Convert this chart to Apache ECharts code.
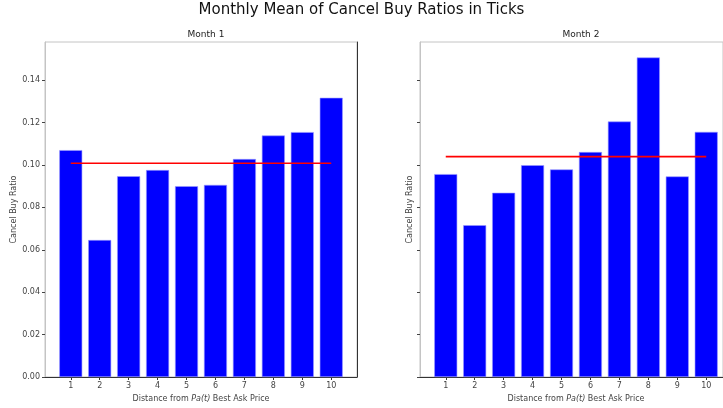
<!DOCTYPE html>
<html>
<head>
<meta charset="utf-8">
<script src="https://cdn.jsdelivr.net/npm/echarts@6/dist/echarts.min.js"></script>
<style>
  html, body { margin: 0; padding: 0; background: #fff; }
  #chart { width: 723px; height: 408px; }
</style>
</head>
<body>
<div id="chart"></div>
<script>
// distances from best ask price
const distances = [1, 2, 3, 4, 5, 6, 7, 8, 9, 10]
// monthly mean cancel buy ratios
const month1 = [0.1070, 0.0646, 0.0947, 0.0976, 0.0900, 0.0906, 0.1028, 0.1139, 0.1155, 0.1317]
const month2 = [0.0957, 0.0716, 0.0869, 0.0999, 0.0979, 0.1061, 0.1205, 0.1507, 0.0946, 0.1156]
const yTicks = [0, 0.02, 0.04, 0.06, 0.08, 0.10, 0.12, 0.14]
const panelTitles = ['Month 1', 'Month 2']

const mean = arr => arr.reduce((s, v) => s + v, 0) / arr.length

const font = 'DejaVu Sans'
// right panel is cut off by the picture edge
const grids = [
  { left: 45, top: 42, width: 312, height: 335, xMax: 10.89, namePad: 0 },
  { left: 420, top: 42, width: 303, height: 335, xMax: 10.58, namePad: 9 }
]

const xAxes = grids.map((g, i) => ({
  type: 'value',
  gridIndex: i,
  min: 0.11,
  max: g.xMax,
  splitLine: { show: false },
  axisLine: { show: true, lineStyle: { color: '#333', width: 1 } },
  axisTick: { show: true, customValues: distances, length: 3, lineStyle: { color: '#333' } },
  axisLabel: { customValues: distances, color: '#444', fontSize: 8, fontFamily: font, margin: 5 },
  name: '{n|Distance from }{i|Pa(t)}{n| Best Ask Price}',
  nameLocation: 'middle',
  nameGap: 16,
  nameTextStyle: {
    padding: [0, 0, 0, g.namePad],
    rich: {
      n: { fontSize: 8, color: '#444', fontFamily: font },
      i: { fontSize: 8, color: '#444', fontFamily: font, fontStyle: 'italic' }
    }
  }
}))

const yAxes = []
grids.forEach((g, i) => {
  yAxes.push({
    type: 'value',
    gridIndex: i,
    min: 0,
    max: 0.158,
    splitLine: { show: false },
    axisLine: { show: true, lineStyle: { color: '#c4c4c4', width: 1 } },
    axisTick: { show: true, customValues: yTicks, length: 3, lineStyle: { color: '#444' } },
    axisLabel: {
      show: i === 0,
      customValues: yTicks,
      formatter: v => v.toFixed(2),
      color: '#444',
      fontSize: 8,
      fontFamily: font,
      margin: 5
    },
    name: 'Cancel Buy Ratio',
    nameLocation: 'middle',
    nameGap: i === 0 ? 26 : 6,
    nameTextStyle: { fontSize: 8, color: '#444', fontFamily: font }
  })
})
// right spine of the left panel
yAxes.push({
  type: 'value',
  gridIndex: 0,
  position: 'right',
  min: 0,
  max: 0.158,
  splitLine: { show: false },
  axisLine: { show: true, lineStyle: { color: '#333', width: 1 } },
  axisTick: { show: false },
  axisLabel: { show: false }
})

const seriesData = [month1, month2]
const series = []
seriesData.forEach((vals, i) => {
  series.push({
    type: 'bar',
    xAxisIndex: i,
    yAxisIndex: i,
    barWidth: 23,
    itemStyle: { color: '#0000ff', borderColor: '#9a9aff', borderWidth: 0.6 },
    data: distances.map((d, k) => [d, vals[k]]),
    silent: true
  })
  const m = mean(vals)
  series.push({
    type: 'line',
    xAxisIndex: i,
    yAxisIndex: i,
    symbol: 'none',
    lineStyle: { color: '#ff0000', width: 1.6 },
    data: [[distances[0], m], [distances[distances.length - 1], m]],
    silent: true,
    z: 5
  })
})

const titles = [{
  text: 'Monthly Mean of Cancel Buy Ratios in Ticks',
  left: 'center',
  top: -2,
  textStyle: { fontSize: 15, fontWeight: 'normal', color: '#111', fontFamily: font }
}].concat(grids.map((g, i) => ({
  text: panelTitles[i],
  left: g.left + 156,
  textAlign: 'center',
  top: 25,
  textStyle: { fontSize: 9, fontWeight: 'normal', color: '#222', fontFamily: font }
})))

const chart = echarts.init(document.getElementById('chart'))
chart.setOption({
  animation: false,
  backgroundColor: '#fff',
  title: titles,
  grid: grids.map(g => ({
    show: true, borderColor: '#c4c4c4', borderWidth: 1,
    left: g.left, top: g.top, width: g.width, height: g.height
  })),
  xAxis: xAxes,
  yAxis: yAxes,
  series
})
</script>
</body>
</html>
